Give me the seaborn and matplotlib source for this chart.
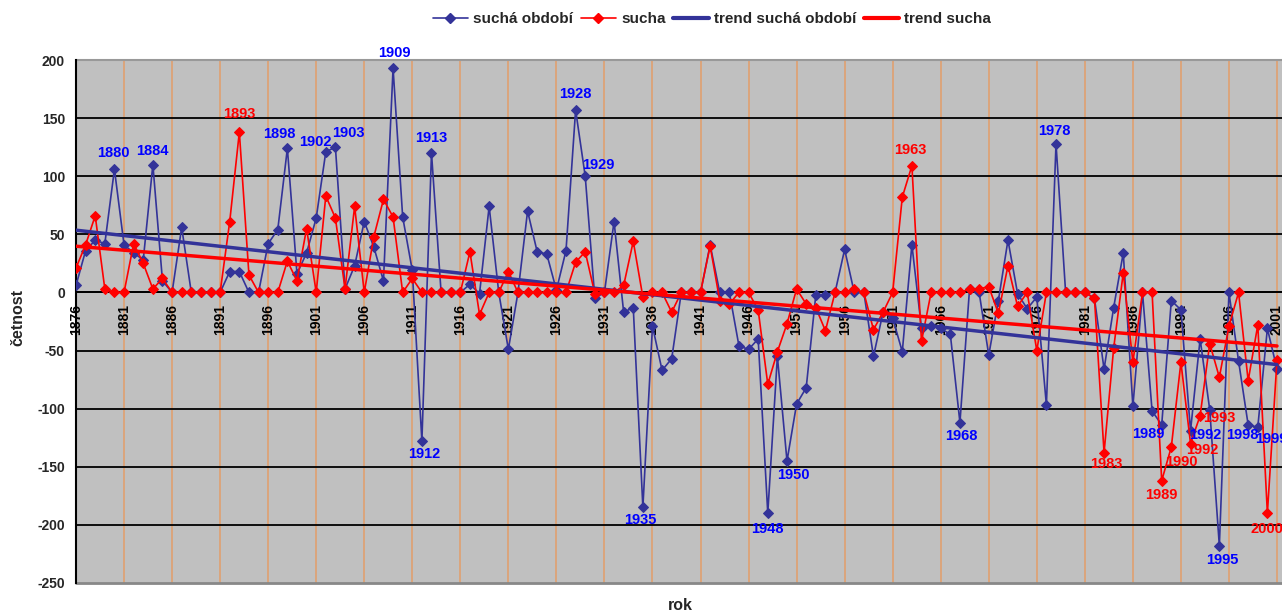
import numpy as np
import pandas as pd
import matplotlib
matplotlib.use("Agg")
import matplotlib.pyplot as plt
from matplotlib.lines import Line2D
import seaborn as sns

# ---- data -------------------------------------------------------------
years = list(range(1876, 2002))

sucha_obdobi = [
    6, 36, 45, 42, 106, 41, 34, 28, 110, 10,            # 1876-1885
    0, 56, 0, 0, 0, 0, 18, 18, 0, 0,                    # 1886-1895
    42, 54, 124, 16, 34, 64, 121, 125, 3, 23,           # 1896-1905
    61, 39, 10, 193, 65, 19, -128, 120, 0, 0,           # 1906-1915
    0, 7, -1, 74, 0, -49, 0, 70, 35, 33,                # 1916-1925
    2, 36, 157, 100, -5, 0, 61, -17, -13, -185,         # 1926-1935
    -29, -67, -57, 0, 0, 0, 41, 0, 0, -46,              # 1936-1945
    -49, -40, -190, -55, -145, -96, -82, -2, -2, 0,     # 1946-1955
    37, 0, 0, -55, -17, -22, -51, 41, -31, -29,         # 1956-1965
    -31, -36, -112, 3, 0, -54, -7, 45, -1, -14,         # 1966-1975
    -4, -97, 128, 0, 0, 0, -5, -66, -13, 34,            # 1976-1985
    -98, 0, -102, -114, -7, -15, -119, -40, -101, -218, # 1986-1995
    0, -59, -114, -116, -31, -66,                       # 1996-2001
]

sucha = [
    21, 41, 66, 3, 0, 0, 42, 25, 3, 12,                 # 1876-1885
    0, 0, 0, 0, 0, 0, 61, 138, 15, 0,                   # 1886-1895
    0, 0, 27, 10, 55, 0, 83, 64, 3, 74,                 # 1896-1905
    0, 48, 80, 65, 0, 12, 0, 0, 0, 0,                   # 1906-1915
    0, 35, -19, 0, 0, 18, 0, 0, 0, 0,                   # 1916-1925
    0, 0, 26, 35, -1, 0, 0, 6, 44, -4,                  # 1926-1935
    0, 0, -17, 0, 0, 0, 40, -7, -10, 0,                 # 1936-1945
    0, -15, -79, -51, -27, 3, -10, -13, -33, 0,         # 1946-1955
    0, 3, 0, -32, -17, 0, 82, 109, -42, 0,              # 1956-1965
    0, 0, 0, 3, 3, 5, -18, 23, -12, 0,                  # 1966-1975
    -50, 0, 0, 0, 0, 0, -5, -138, -48, 17,              # 1976-1985
    -60, 0, 0, -162, -133, -60, -130, -106, -44, -73,   # 1986-1995
    -29, 0, -76, -28, -190, -58,                        # 1996-2001
]

labels_obdobi = [1880, 1884, 1898, 1902, 1903, 1909, 1912, 1913, 1928, 1929,
                 1935, 1948, 1950, 1968, 1978, 1989, 1992, 1995, 1998, 1999]
labels_sucha = [1893, 1963, 1983, 1989, 1990, 1992, 1993, 2000]

tick_years = list(range(1876, 2002, 5))
y_ticks = list(range(-250, 201, 50))

# label placement (pixel offsets from the marker)
off_obdobi = {1880: (-1, 16), 1884: (0, 14), 1898: (-8, 14), 1902: (-10, 10),
              1903: (13, 14), 1909: (1, 15), 1912: (2, -13), 1913: (0, 15),
              1928: (0, 16), 1929: (13, 11), 1935: (-3, -13), 1948: (0, -16),
              1950: (6, -14), 1968: (1, -13), 1978: (-2, 13), 1989: (-13, -9),
              1992: (15, -4), 1995: (3, -14), 1998: (-6, -10), 1999: (14, -12)}
off_sucha = {1893: (0, 18), 1963: (-2, 16), 1983: (2, -11), 1989: (0, -14),
             1990: (10, -15), 1992: (12, -6), 1993: (19, -2), 2000: (0, -16)}

# ---- style ------------------------------------------------------------
sns.set_style("white")
plt.rcParams["font.family"] = ["Liberation Sans", "DejaVu Sans"]
plt.rcParams["font.weight"] = "bold"

BLUE = "#333399"
RED = "#FF0000"

df = pd.DataFrame({"rok": years, "obdobi": sucha_obdobi, "sucha": sucha})

fig = plt.figure(figsize=(12.82, 6.14), dpi=100)
W, H = 1282, 614
x0, x1 = 76, 1282
ytop, ybot = 60, 583
ax = fig.add_axes([x0 / W, (H - ybot) / H, (x1 - x0) / W, (ybot - ytop) / H])
ax.set_facecolor("#C0C0C0")

ax.set_xlim(1876, 2001 + (x1 - 1277) / 9.6)
ax.set_ylim(-250, 200)

# grid
for yr in tick_years[1:]:
    ax.axvline(yr, color="#E0A070", lw=1.2, zorder=0.5)
for v in y_ticks:
    if -250 < v < 200:
        ax.axhline(v, color="black", lw=1.3, zorder=0.6)
ax.axhline(-250, color="#888888", lw=2, zorder=0.6, clip_on=False)
ax.axhline(200, color="#999999", lw=1.5, zorder=0.6, clip_on=False)

# series
MS = 5
sns.lineplot(data=df, x="rok", y="obdobi", ax=ax, color=BLUE, lw=1.2,
             marker="D", markersize=MS, markeredgecolor=BLUE, zorder=3)
sns.lineplot(data=df, x="rok", y="sucha", ax=ax, color=RED, lw=1.2,
             marker="D", markersize=MS, markeredgecolor=RED, zorder=4)

# linear trends
sns.regplot(data=df, x="rok", y="obdobi", ax=ax, scatter=False, ci=None,
            truncate=True, line_kws=dict(color=BLUE, lw=2.5, zorder=5))
sns.regplot(data=df, x="rok", y="sucha", ax=ax, scatter=False, ci=None,
            truncate=True, line_kws=dict(color=RED, lw=2.5, zorder=6))

# year annotations
lookup_o = dict(zip(years, sucha_obdobi))
lookup_s = dict(zip(years, sucha))
for yr in labels_obdobi:
    dx, dy = off_obdobi[yr]
    ax.annotate(str(yr), (yr, lookup_o[yr]), xytext=(dx, dy),
                textcoords="offset pixels", ha="center", va="center",
                color="#0000FF", fontsize=10.5, fontweight="bold",
                annotation_clip=False, zorder=8)
for yr in labels_sucha:
    dx, dy = off_sucha[yr]
    ax.annotate(str(yr), (yr, lookup_s[yr]), xytext=(dx, dy),
                textcoords="offset pixels", ha="center", va="center",
                color=RED, fontsize=10.5, fontweight="bold",
                annotation_clip=False, zorder=8)

# axes
for s in ["top", "right"]:
    ax.spines[s].set_visible(False)
ax.spines["bottom"].set_position(("data", 0))
ax.spines["bottom"].set_color("black")
ax.spines["bottom"].set_linewidth(1.3)
ax.spines["left"].set_color("black")
ax.spines["left"].set_linewidth(1.5)

ax.set_xticks(tick_years)
ax.set_xticklabels([str(t) for t in tick_years], rotation=90,
                   fontsize=10, fontweight="bold", va="top")
ax.tick_params(axis="x", direction="inout", length=7, width=1, pad=5,
               colors="black")
ax.set_yticks(y_ticks)
ax.set_yticklabels([str(t) for t in y_ticks], fontsize=10, fontweight="bold")
ax.tick_params(axis="y", direction="out", length=5, width=1.2, pad=3)

ax.set_xlabel("")
ax.set_ylabel("")
fig.text(18 / W, 1 - 318 / H, "četnost", rotation=90, ha="center", va="center",
         fontsize=11.5, fontweight="bold")
fig.text(680 / W, 1 - 605 / H, "rok", ha="center", va="center",
         fontsize=11.5, fontweight="bold")

handles = [
    Line2D([], [], color=BLUE, lw=1.2, marker="D", markersize=MS),
    Line2D([], [], color=RED, lw=1.2, marker="D", markersize=MS),
    Line2D([], [], color=BLUE, lw=3),
    Line2D([], [], color=RED, lw=3),
]
names = ["suchá období", "sucha", "trend suchá období", "trend sucha"]
fig.legend(handles, names, loc="center", bbox_to_anchor=(712 / W, 1 - 19 / H),
           ncol=4, frameon=False, handlelength=2.3,
           columnspacing=0.5, handletextpad=0.35,
           prop=dict(weight="bold", size=11))

fig.savefig("out.png", dpi=100)
